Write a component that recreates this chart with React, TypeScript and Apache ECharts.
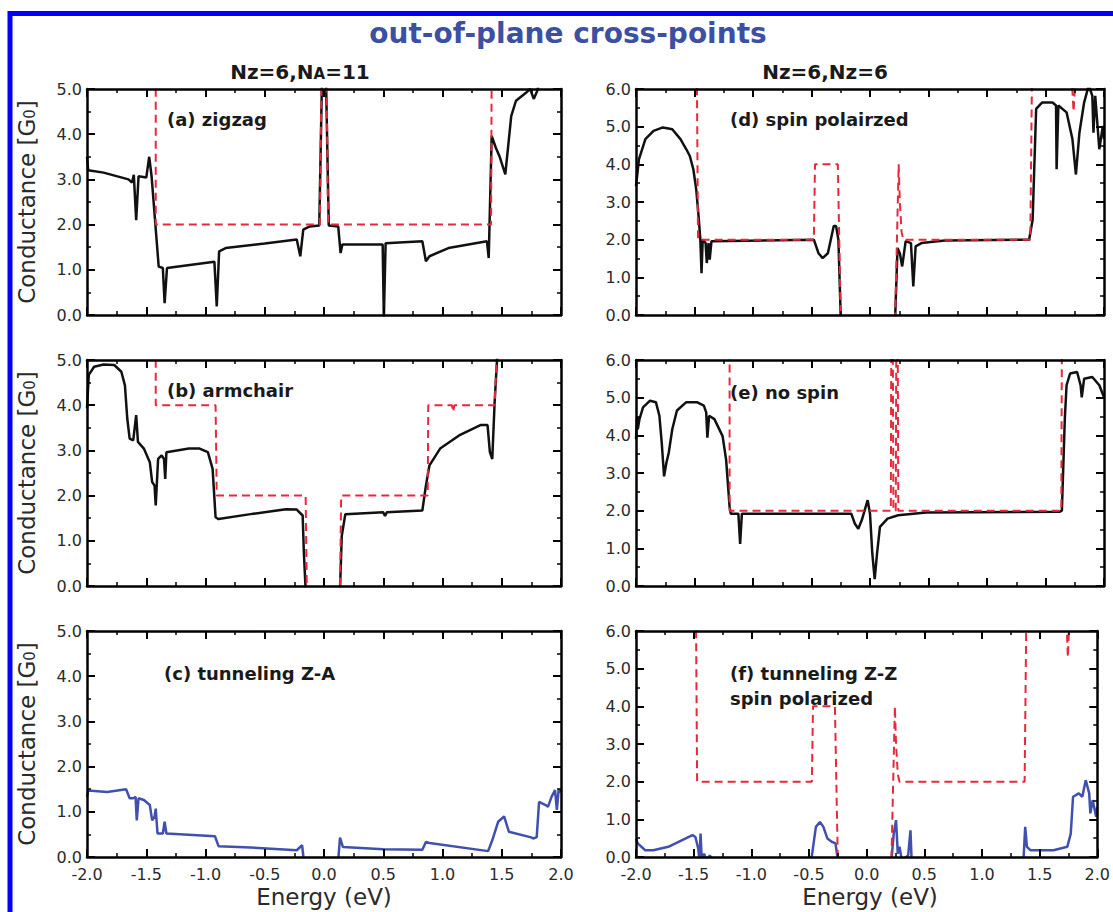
import React, { useEffect, useRef } from 'react';
import * as echarts from 'echarts';

const FONT = 'DejaVu Sans';

// ---------- data (Energy eV, Conductance G0); values at/below the x axis are hidden under it ----------
const energyTicks = [-2, -1.5, -1, -0.5, 0, 0.5, 1, 1.5, 2];

const aBlack = [[-2.0,3.5],[-1.99,3.2],[-1.86,3.15],[-1.65,3.0],[-1.62,2.93],[-1.605,3.1],[-1.585,2.1],[-1.565,3.07],[-1.5,3.04],[-1.475,3.5],[-1.455,3.07],[-1.395,1.07],[-1.36,1.04],[-1.345,0.26],[-1.325,1.04],[-0.925,1.18],[-0.905,0.19],[-0.885,1.41],[-0.83,1.48],[-0.5,1.58],[-0.23,1.67],[-0.2,1.3],[-0.175,1.89],[-0.12,1.96],[-0.04,1.98],[-0.015,5.5],[0.015,5.5],[0.04,1.98],[0.12,1.96],[0.14,1.37],[0.155,1.56],[0.495,1.56],[0.505,-0.08],[0.52,1.59],[0.83,1.63],[0.86,1.19],[0.89,1.3],[1.05,1.48],[1.375,1.63],[1.39,1.26],[1.415,3.96],[1.45,3.7],[1.48,3.52],[1.53,3.11],[1.58,4.4],[1.62,4.74],[1.71,4.93],[1.74,5.0],[1.77,4.78],[1.8,4.96],[1.83,5.3],[2.0,5.5]];
const aRed = [[-2,5.5],[-1.42,5.5],[-1.42,2],[-0.035,2],[-0.02,5.5],[0.02,5.5],[0.035,2],[1.41,2],[1.415,5.5],[2,5.5]];

const bBlack = [[-2.0,3.93],[-1.985,4.67],[-1.94,4.85],[-1.86,4.9],[-1.77,4.89],[-1.71,4.74],[-1.68,4.44],[-1.66,3.7],[-1.64,3.26],[-1.61,3.22],[-1.585,3.78],[-1.57,3.19],[-1.52,3.04],[-1.47,2.74],[-1.45,2.3],[-1.43,2.22],[-1.42,1.78],[-1.4,2.81],[-1.37,2.89],[-1.35,2.81],[-1.34,2.37],[-1.33,2.96],[-1.14,3.04],[-1.05,3.04],[-0.98,2.96],[-0.94,2.59],[-0.915,1.52],[-0.89,1.48],[-0.62,1.59],[-0.32,1.7],[-0.23,1.69],[-0.18,1.56],[-0.17,0.74],[-0.155,-0.08],[0.135,-0.08],[0.15,1.11],[0.18,1.59],[0.5,1.63],[0.515,1.55],[0.53,1.63],[0.83,1.67],[0.86,2.22],[0.89,2.67],[0.98,3.04],[1.14,3.33],[1.32,3.56],[1.38,3.56],[1.4,2.96],[1.42,2.81],[1.44,4.07],[1.46,5.0],[1.48,5.5],[2.0,5.5]];
const bRed = [[-2,5.5],[-1.42,5.5],[-1.42,4],[-0.915,4],[-0.905,2],[-0.155,2],[-0.145,-0.08],[0.135,-0.08],[0.145,2],[0.875,2],[0.88,4],[1.08,4],[1.09,3.85],[1.1,4],[1.44,4],[1.465,5.5],[2,5.5]];

const cBlue = [[-2.0,1.33],[-1.99,1.47],[-1.83,1.44],[-1.67,1.5],[-1.64,1.3],[-1.61,1.3],[-1.59,1.33],[-1.58,0.81],[-1.565,1.3],[-1.52,1.26],[-1.47,1.15],[-1.45,0.81],[-1.43,0.89],[-1.42,1.07],[-1.405,0.52],[-1.36,0.52],[-1.345,0.78],[-1.33,0.52],[-0.92,0.46],[-0.89,0.24],[-0.62,0.21],[-0.23,0.15],[-0.185,0.26],[-0.17,-0.08],[0.12,-0.08],[0.135,0.43],[0.16,0.22],[0.5,0.17],[0.83,0.16],[0.86,0.33],[0.89,0.31],[1.385,0.13],[1.42,0.37],[1.47,0.78],[1.52,0.9],[1.56,0.56],[1.74,0.44],[1.77,0.41],[1.795,0.44],[1.815,1.22],[1.87,1.15],[1.89,1.11],[1.92,1.33],[1.95,1.48],[1.965,1.04],[1.98,1.48],[2.0,1.44]];

const dBlack = [[-2.0,3.42],[-1.975,4.13],[-1.92,4.67],[-1.85,4.89],[-1.77,4.98],[-1.69,4.93],[-1.62,4.67],[-1.57,4.4],[-1.54,4.22],[-1.51,3.87],[-1.485,3.33],[-1.465,2.62],[-1.45,2.0],[-1.44,1.11],[-1.43,2.0],[-1.405,1.91],[-1.395,1.38],[-1.38,1.91],[-1.37,1.47],[-1.355,1.96],[-0.48,2.0],[-0.44,1.64],[-0.405,1.51],[-0.36,1.64],[-0.31,2.36],[-0.29,2.36],[-0.27,2.0],[-0.25,-0.08],[0.215,-0.08],[0.235,1.78],[0.255,1.64],[0.275,1.29],[0.305,1.96],[0.35,1.91],[0.37,0.76],[0.39,1.82],[0.44,1.91],[0.64,1.98],[1.36,2.0],[1.39,2.53],[1.42,5.47],[1.47,5.64],[1.56,5.64],[1.59,5.56],[1.595,3.87],[1.61,5.56],[1.68,5.38],[1.73,4.67],[1.76,3.73],[1.79,4.84],[1.83,5.64],[1.87,6.1],[1.9,5.82],[1.91,4.84],[1.925,5.82],[1.96,4.4],[1.99,5.02],[2.0,4.67]];
const dRed = [[-2,6.5],[-1.48,6.5],[-1.47,2],[-0.48,2],[-0.47,4],[-0.275,4],[-0.25,-0.08],[0.215,-0.08],[0.245,4],[0.255,3],[0.27,2.2],[0.285,2],[1.37,2],[1.385,6.5],[1.72,6.5],[1.74,5.4],[1.76,6.5],[2,6.5]];

const eBlack = [[-2.0,3.9],[-1.99,4.5],[-1.985,4.16],[-1.97,4.43],[-1.94,4.74],[-1.88,4.92],[-1.83,4.88],[-1.8,4.52],[-1.78,3.8],[-1.76,2.91],[-1.74,3.27],[-1.72,3.54],[-1.69,4.16],[-1.65,4.66],[-1.57,4.88],[-1.48,4.88],[-1.42,4.79],[-1.4,4.61],[-1.39,3.94],[-1.375,4.52],[-1.33,4.43],[-1.26,3.98],[-1.23,3.36],[-1.2,2.1],[-1.19,1.92],[-1.125,1.92],[-1.11,1.12],[-1.095,1.92],[-0.59,1.92],[-0.16,1.92],[-0.13,1.66],[-0.1,1.52],[-0.07,1.75],[-0.02,2.28],[0.0,1.92],[0.02,0.85],[0.04,0.18],[0.06,0.85],[0.085,1.57],[0.15,1.79],[0.24,1.88],[0.48,1.95],[1.62,1.97],[1.64,2.0],[1.665,4.43],[1.68,5.33],[1.71,5.64],[1.77,5.68],[1.8,5.33],[1.81,5.01],[1.83,5.5],[1.9,5.55],[1.96,5.33],[2.0,5.01]];
const eRed = [[-2,6.5],[-1.2,6.5],[-1.2,2],[0.178,2],[0.182,6.5],[0.195,6.5],[0.2,2],[0.22,2],[0.225,6.5],[0.237,6.5],[0.242,2],[1.635,2],[1.64,6.5],[2,6.5]];

const fBlue = [[-2.0,0.49],[-1.985,0.36],[-1.92,0.18],[-1.85,0.18],[-1.72,0.27],[-1.51,0.58],[-1.485,0.53],[-1.46,0.22],[-1.45,-0.08],[-1.44,0.62],[-1.43,-0.08],[-1.41,0.09],[-1.39,-0.08],[-1.36,0.04],[-1.33,-0.08],[-0.48,-0.08],[-0.46,0.36],[-0.44,0.8],[-0.405,0.93],[-0.375,0.8],[-0.34,0.49],[-0.3,0.4],[-0.27,0.36],[-0.25,-0.08],[0.215,-0.08],[0.235,0.62],[0.255,0.98],[0.27,0.09],[0.285,0.27],[0.305,-0.08],[0.36,0.04],[0.38,0.71],[0.39,-0.08],[1.36,-0.08],[1.375,0.8],[1.39,0.27],[1.42,0.18],[1.62,0.18],[1.74,0.27],[1.77,0.62],[1.79,1.6],[1.84,1.69],[1.87,1.6],[1.9,2.04],[1.93,1.69],[1.94,1.16],[1.96,1.51],[1.99,1.07],[2.0,1.33]];
const fRed = [[-2,6.5],[-1.48,6.5],[-1.47,2],[-0.475,2],[-0.465,4],[-0.275,4],[-0.25,-0.08],[0.215,-0.08],[0.245,4],[0.255,3],[0.27,2.2],[0.285,2],[1.37,2],[1.385,6.5],[1.73,6.5],[1.745,5.3],[1.76,6.5],[2,6.5]];

const panelLabels = ['(a) zigzag', '(b) armchair', '(c) tunneling Z-A', '(d) spin polairzed', '(e) no spin', '(f) tunneling Z-Z\nspin polarized'];
const yMaxes = [5, 5, 5, 6, 6, 6];

// ---------- styling ----------
const BLACK = '#111111';
const RED = '#e8283c';
const BLUE = '#4050ad';

const grids = [
  { left: 87, top: 89, width: 474, height: 226 },
  { left: 87, top: 360, width: 474, height: 226 },
  { left: 87, top: 631, width: 474, height: 226 },
  { left: 636, top: 89, width: 468, height: 226 },
  { left: 636, top: 360, width: 468, height: 226 },
  { left: 636, top: 631, width: 468, height: 226 },
];

const panelSeries: { data: number[][]; kind: 'black' | 'red' | 'blue' }[][] = [
  [{ data: aBlack, kind: 'black' }, { data: aRed, kind: 'red' }],
  [{ data: bBlack, kind: 'black' }, { data: bRed, kind: 'red' }],
  [{ data: cBlue, kind: 'blue' }],
  [{ data: dBlack, kind: 'black' }, { data: dRed, kind: 'red' }],
  [{ data: eBlack, kind: 'black' }, { data: eRed, kind: 'red' }],
  [{ data: fBlue, kind: 'blue' }, { data: fRed, kind: 'red' }],
];

const labelPos = [
  { x: 167, y: 119 }, { x: 167, y: 390 }, { x: 164, y: 673 },
  { x: 730, y: 119 }, { x: 730, y: 392 }, { x: 730, y: 673 },
];

function buildOption() {
  const tickLine = { color: '#000', width: 2 };
  const xAxes: any[] = [];
  const yAxes: any[] = [];
  const series: any[] = [];
  grids.forEach((g, i) => {
    const showX = i === 2 || i === 5;
    const xBase = {
      type: 'value', gridIndex: i, z: 10, min: energyTicks[0], max: energyTicks[energyTicks.length - 1], interval: 0.5,
      axisLine: { show: true, onZero: false, lineStyle: { color: '#000', width: 2.5 } },
      axisTick: { show: true, inside: true, length: 8, lineStyle: tickLine },
      minorTick: { show: true, splitNumber: 2, length: 4, lineStyle: { color: '#000', width: 1.5 } },
      splitLine: { show: false },
    };
    xAxes.push({
      ...xBase, position: 'bottom',
      axisLabel: { show: showX, margin: 9, color: '#2a2a2a', fontSize: 16, fontFamily: FONT, formatter: (v: number) => v.toFixed(1) },
    });
    xAxes.push({ ...xBase, position: 'top', axisLabel: { show: false } });
    const yBase = {
      type: 'value', gridIndex: i, z: 10, min: 0, max: yMaxes[i], interval: 1,
      axisLine: { show: true, onZero: false, lineStyle: { color: '#000', width: 2.5 } },
      axisTick: { show: true, inside: true, length: 8, lineStyle: tickLine },
      minorTick: { show: true, splitNumber: 2, length: 4, lineStyle: { color: '#000', width: 1.5 } },
      splitLine: { show: false },
    };
    yAxes.push({
      ...yBase, position: 'left',
      axisLabel: { show: true, margin: 5, color: '#2a2a2a', fontSize: 16, fontFamily: FONT, formatter: (v: number) => v.toFixed(1) },
    });
    yAxes.push({ ...yBase, position: 'right', axisLabel: { show: false } });

    panelSeries[i].forEach((s) => {
      const color = s.kind === 'black' ? BLACK : s.kind === 'red' ? RED : BLUE;
      series.push({
        type: 'line',
        xAxisIndex: 2 * i,
        yAxisIndex: 2 * i,
        data: s.data,
        showSymbol: false,
        symbol: 'none',
        clip: true,
        z: s.kind === 'red' ? 3 : 2,
        lineStyle: {
          color,
          width: s.kind === 'red' ? 2 : 2.5,
          type: s.kind === 'red' ? [8, 5] : 'solid',
        },
      });
    });
  });

  const textStyle = (extra: any) => ({ fontFamily: FONT, ...extra });
  const graphic: any[] = [
    {
      type: 'rect', silent: true, z: 100,
      shape: { x: 10, y: 13.5, width: 1200, height: 1000 },
      style: { fill: 'none', stroke: '#0000ff', lineWidth: 5 },
    },
    {
      type: 'text', x: 568, y: 33,
      style: textStyle({ text: 'out-of-plane cross-points', fill: '#3d4fa2', fontSize: 28, fontWeight: 'bold', align: 'center', verticalAlign: 'middle' }),
    },
    {
      type: 'text', x: 300, y: 72,
      style: textStyle({
        text: 'Nz=6,N{s|A}=11', fill: '#1a1a1a', fontSize: 20, fontWeight: 'bold', align: 'center', verticalAlign: 'middle',
        rich: { s: { fontSize: 15, fontWeight: 'bold', fontFamily: FONT, fill: '#1a1a1a', padding: [4, 0, 0, 0] } },
      }),
    },
    {
      type: 'text', x: 825, y: 72,
      style: textStyle({ text: 'Nz=6,Nz=6', fill: '#1a1a1a', fontSize: 20, fontWeight: 'bold', align: 'center', verticalAlign: 'middle' }),
    },
  ];
  [0, 1, 2].forEach((i) => {
    const g = grids[i];
    graphic.push({
      type: 'text', x: 27, y: g.top + g.height / 2, rotation: Math.PI / 2,
      style: textStyle({
        text: 'Conductance [G{s|0}]', fill: '#2a2a2a', fontSize: 23, align: 'center', verticalAlign: 'middle',
        rich: { s: { fontSize: 15, fontFamily: FONT, fill: '#2a2a2a', padding: [6, 0, 0, 0] } },
      }),
    });
  });
  [2, 5].forEach((i) => {
    const g = grids[i];
    graphic.push({
      type: 'text', x: g.left + g.width / 2, y: 897,
      style: textStyle({ text: 'Energy (eV)', fill: '#2a2a2a', fontSize: 23, align: 'center', verticalAlign: 'middle' }),
    });
  });
  panelLabels.forEach((t, i) => {
    graphic.push({
      type: 'text', x: labelPos[i].x, y: i === 5 ? labelPos[i].y - 12 : labelPos[i].y,
      style: textStyle({ text: t, fill: '#1a1a1a', fontSize: 18, fontWeight: 'bold', align: 'left', verticalAlign: i === 5 ? 'top' : 'middle', lineHeight: 25 }),
    });
  });

  return {
    animation: false,
    backgroundColor: '#ffffff',
    grid: grids.map((g) => ({ ...g, containLabel: false })),
    xAxis: xAxes,
    yAxis: yAxes,
    series,
    graphic,
  };
}

export default function App() {
  const ref = useRef<HTMLDivElement>(null);
  useEffect(() => {
    if (!ref.current) return;
    const chart = echarts.init(ref.current, undefined, { renderer: 'svg' });
    chart.setOption(buildOption() as any);
    return () => chart.dispose();
  }, []);
  return <div ref={ref} style={{ position: 'fixed', left: 0, top: 0, width: 1113, height: 912, background: '#fff' }} />;
}
